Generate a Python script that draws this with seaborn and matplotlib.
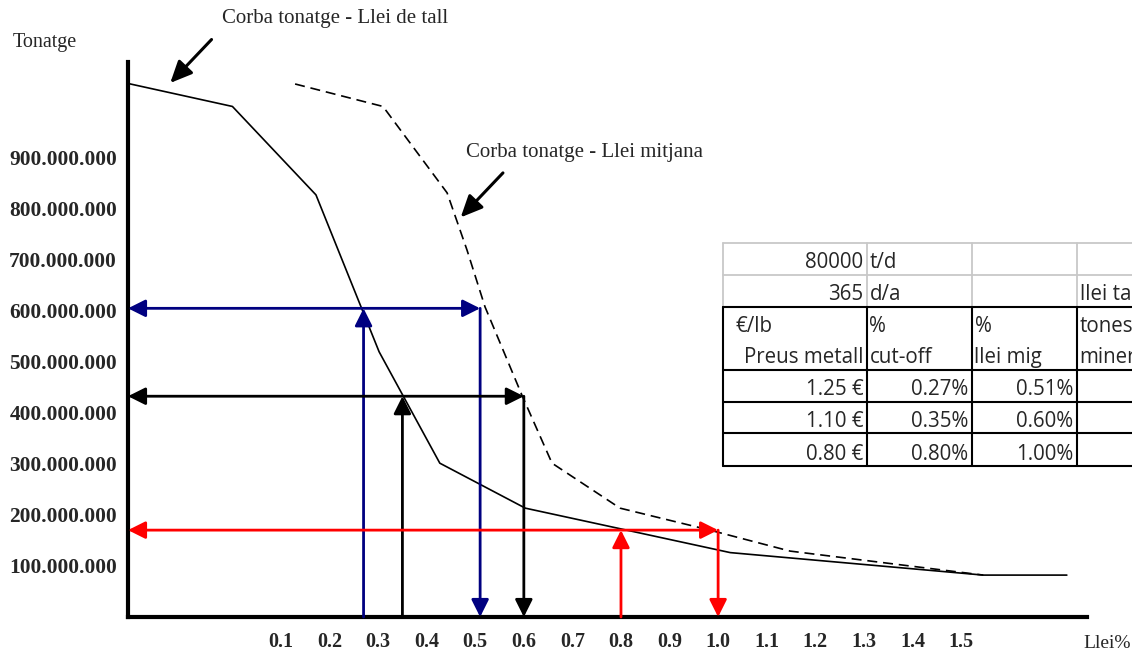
import matplotlib
matplotlib.use("Agg")
import matplotlib.pyplot as plt
import seaborn as sns
import pandas as pd
from matplotlib.patches import Rectangle
from matplotlib.lines import Line2D

# ---- data -------------------------------------------------------------
# grade-tonnage curve by cut-off grade (grade %, tonnes in millions)
cut_grade = [-0.215, 0.0, 0.172, 0.302, 0.427, 0.603, 1.025, 1.546, 1.718]
cut_tonnes_mt = [1044, 999, 826, 519, 301, 213, 126, 82, 82]

# grade-tonnage curve by mean grade
mean_grade = [0.129, 0.310, 0.442, 0.483, 0.520, 0.597, 0.658, 0.798, 0.983, 1.148, 1.546]
mean_tonnes_mt = [1043, 999, 830, 718, 607, 432, 301, 213, 170, 129, 82]

# metal price scenarios: cut-off grade, mean grade, tonnage read on the curves
scenario_colors = ["#000080", "#000000", "#ff0000"]
scenario_cutoff = [0.27, 0.35, 0.80]
scenario_mean = [0.51, 0.60, 1.00]
scenario_tonnes_mt = [604, 432, 170]

x_ticks = [0.1, 0.2, 0.3, 0.4, 0.5, 0.6, 0.7, 0.8, 0.9, 1.0, 1.1, 1.2, 1.3, 1.4, 1.5]
y_ticks_mt = [100, 200, 300, 400, 500, 600, 700, 800, 900]

# spreadsheet block beside the chart
table_rows = [
    ["80000", "t/d", "", ""],
    ["365", "d/a", "", "llei tall"],
    ["€/lb", "%", "%", "tones"],
    ["Preus metall", "cut-off", "llei mig", "mineral"],
    ["1.25 €", "0.27%", "0.51%", ""],
    ["1.10 €", "0.35%", "0.60%", ""],
    ["0.80 €", "0.80%", "1.00%", ""],
]

# ---- figure -----------------------------------------------------------
W, H = 1132, 653
sns.set_style("white")
plt.rcParams["font.family"] = ["Liberation Serif", "DejaVu Serif"]

fig = plt.figure(figsize=(W / 100, H / 100), dpi=100)
fig.patch.set_facecolor("white")


def fx(px):
    return px / W


def fy(py):
    return 1 - py / H


ax = fig.add_axes([fx(128), fy(617), fx(1087) - fx(128), fy(62) - fy(617)])
ax.set_facecolor("white")

df_cut = pd.DataFrame({"grade": cut_grade, "tonnes": [v * 1e6 for v in cut_tonnes_mt]})
df_mean = pd.DataFrame({"grade": mean_grade, "tonnes": [v * 1e6 for v in mean_tonnes_mt]})

sns.lineplot(data=df_cut, x="grade", y="tonnes", ax=ax, sort=False, estimator=None,
             color="black", linewidth=1.2)
sns.lineplot(data=df_mean, x="grade", y="tonnes", ax=ax, sort=False, estimator=None,
             color="black", linewidth=1.2, linestyle=(0, (6, 3.5)))

x_left = -0.215
ax.set_xlim(x_left, 1.7595)
ax.set_ylim(0, 1086e6)


def arrow(x0, y0, x1, y1, color, style="-|>"):
    ax.annotate("", xy=(x1, y1), xytext=(x0, y0),
                arrowprops=dict(arrowstyle=f"{style},head_length=1.0,head_width=0.5",
                                mutation_scale=10.5, color=color, lw=2.0,
                                shrinkA=0, shrinkB=0),
                annotation_clip=False)


for c, xc, xm, t in zip(scenario_colors, scenario_cutoff, scenario_mean, scenario_tonnes_mt):
    ty = t * 1e6
    arrow(x_left, ty, xm, ty, c, "<|-|>")
    arrow(xc, 0, xc, ty, c)
    arrow(xm, ty, xm, 0, c)

# axes styling
for side in ["top", "right"]:
    ax.spines[side].set_visible(False)
for side in ["left", "bottom"]:
    ax.spines[side].set_linewidth(3.0)
    ax.spines[side].set_color("black")

ax.set_xticks(x_ticks)
ax.set_xticklabels([f"{v:.1f}" for v in x_ticks], fontsize=14.5, fontweight="bold")
ax.set_yticks([v * 1e6 for v in y_ticks_mt])
ax.set_yticklabels([f"{v * 1e6:,.0f}".replace(",", ".") for v in y_ticks_mt],
                   fontsize=15.4, fontweight="bold")
ax.tick_params(axis="both", length=0)
ax.tick_params(axis="y", pad=8)
ax.tick_params(axis="x", pad=11)
ax.set_xlabel("")
ax.set_ylabel("")
ax.grid(False)

# axis titles
fig.text(fx(13), fy(42), "Tonatge", fontsize=14.5, va="center", ha="left")
fig.text(fx(1083), fy(643), "Llei%", fontsize=14, va="center", ha="left")

# curve call-outs
fig.text(fx(222), fy(18), "Corba tonatge - Llei de tall", fontsize=15, va="center", ha="left")
fig.text(fx(466), fy(152), "Corba tonatge - Llei mitjana", fontsize=15, va="center", ha="left")
callout = dict(arrowstyle="-|>,head_length=1.1,head_width=0.5", mutation_scale=12,
               color="black", lw=2.2, shrinkA=0, shrinkB=0)
ax.annotate("", xy=(-0.128, 1045e6), xytext=(-0.043, 1130e6), arrowprops=callout,
            annotation_clip=False)
ax.annotate("", xy=(0.470, 782e6), xytext=(0.557, 869e6), arrowprops=callout,
            annotation_clip=False)

# spreadsheet block
col_edges = [723, 866.5, 971.5, 1076.5, 1200]
row_edges = [243, 275, 306.5, 338.3, 370, 401.7, 433.3, 466]
font_tab = ["Open Sans", "DejaVu Sans"]
fig.add_artist(Rectangle((fx(col_edges[0]), fy(row_edges[-1])),
                         fx(W + 10) - fx(col_edges[0]), fy(row_edges[0]) - fy(row_edges[-1]),
                         transform=fig.transFigure, facecolor="white", edgecolor="none",
                         zorder=2))

grey = "#c8c8c8"


def hline(py, x0, x1, color, lw):
    fig.add_artist(Line2D([fx(x0), fx(x1)], [fy(py), fy(py)], transform=fig.transFigure,
                          color=color, lw=lw, zorder=3))


def vline(px, y0, y1, color, lw):
    fig.add_artist(Line2D([fx(px), fx(px)], [fy(y0), fy(y1)], transform=fig.transFigure,
                          color=color, lw=lw, zorder=3))


# light gridlines on the two top rows
hline(row_edges[0], col_edges[0], W + 5, grey, 1.3)
hline(row_edges[1], col_edges[0], W + 5, grey, 1.3)
for cx in col_edges[:4]:
    vline(cx, row_edges[0], row_edges[2], grey, 1.3)
# bordered block
for ry in [row_edges[2], row_edges[4], row_edges[5], row_edges[6], row_edges[7]]:
    hline(ry, col_edges[0], W + 5, "black", 1.5)
for cx in col_edges[:4]:
    vline(cx, row_edges[2], row_edges[7], "black", 1.5)

for r, row in enumerate(table_rows):
    base = row_edges[r + 1] - 6.5
    for c, txt in enumerate(row):
        if not txt:
            continue
        numeric = any(ch.isdigit() for ch in txt)
        if (c == 0 and txt != "€/lb") or (numeric and c > 0):
            fig.text(fx(col_edges[c + 1] - 3), fy(base), txt, ha="right", va="baseline",
                     fontsize=14.8, family=font_tab, zorder=4)
        else:
            fig.text(fx(col_edges[c] + 3 if c > 0 else col_edges[c] + 12), fy(base), txt,
                     ha="left", va="baseline", fontsize=14.8, family=font_tab, zorder=4)

fig.savefig("out.png", dpi=100, facecolor="white")
